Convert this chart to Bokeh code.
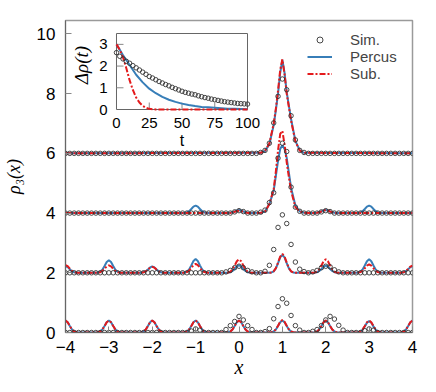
import numpy as np
from bokeh.plotting import figure
from bokeh.models import Range1d, Legend, LegendItem, FixedTicker
from bokeh.embed import file_html
from bokeh.resources import INLINE
from bokeh.core.properties import value

# ---------------- main panel data ----------------
x_ticks = [-4, -3, -2, -1, 0, 1, 2, 3, 4]
y_ticks = [0, 2, 4, 6, 8, 10]
offsets = [0, 2, 4, 6]

# relative profile of the small density peaks
peak_dx = [-0.3, -0.25, -0.2, -0.15, -0.1, -0.05, 0.0, 0.05, 0.1, 0.15, 0.2, 0.25, 0.3]
peak_shape = [0.0, 0.02, 0.08, 0.25, 0.54, 0.86, 1.0, 0.86, 0.54, 0.25, 0.08, 0.02, 0.0]

# (centre, height) of the small peaks
percus_peaks_0 = [(-4, 0.40), (-3, 0.40), (-2, 0.40), (-1, 0.40), (0, 0.40), (1, 0.40), (2, 0.40), (3, 0.38), (4, 0.40)]
sub_peaks_0 = [(-4, 0.40), (-3, 0.40), (-2, 0.40), (-1, 0.40), (0, 0.40), (1, 0.42), (2, 0.40), (3, 0.40), (4, 0.40)]
percus_peaks_2 = [(-4, 0.22), (-3, 0.42), (-2, 0.21), (-1, 0.46), (0, 0.25), (1, 0.60), (2, 0.24), (3, 0.45), (4, 0.22)]
sub_peaks_2 = [(-4, 0.26), (-3, 0.25), (-2, 0.20), (-1, 0.30), (0, 0.45), (1, 0.63), (2, 0.45), (3, 0.28), (4, 0.24)]
percus_peaks_4 = [(-1, 0.25), (0, 0.10), (2, 0.10), (3, 0.25)]
sub_peaks_4 = [(0, 0.08), (2, 0.10)]
percus_peaks_6 = []
sub_peaks_6 = []

# the large peak at x = 1 (height above the baseline)
big_dx = [-0.5, -0.4, -0.3, -0.2, -0.15, -0.1, -0.05, 0.0, 0.05, 0.1, 0.15, 0.2, 0.3, 0.4, 0.5]
percus_big_4 = [0.01, 0.05, 0.30, 0.75, 1.25, 1.75, 2.15, 2.27, 2.15, 1.85, 1.35, 0.85, 0.25, 0.06, 0.01]
sub_big_4 = [0.01, 0.05, 0.30, 0.80, 1.40, 2.10, 2.65, 2.75, 2.30, 1.70, 1.20, 0.75, 0.20, 0.05, 0.01]
percus_big_6 = [0.02, 0.08, 0.30, 0.95, 1.45, 2.00, 2.70, 3.13, 2.70, 2.05, 1.60, 1.15, 0.42, 0.10, 0.02]
sub_big_6 = [0.02, 0.09, 0.33, 1.00, 1.50, 2.10, 2.80, 3.15, 2.65, 2.00, 1.55, 1.10, 0.40, 0.09, 0.02]

# simulation: sample positions and deviations from each baseline
sim_x = np.round(np.linspace(-4, 4, 81), 1)
sim_dev_0 = {-1.1: 0.05, -1.0: 0.12, -0.9: 0.08, -0.3: 0.10, -0.2: 0.23, -0.1: 0.37, 0.0: 0.54,
             0.1: 0.42, 0.2: 0.23, 0.3: 0.10, 0.6: 0.03, 0.7: 0.13, 0.8: 0.46, 0.9: 0.87, 1.0: 1.13,
             1.1: 0.98, 1.2: 0.57, 1.3: 0.23, 1.4: 0.08, 1.7: 0.04, 1.8: 0.10, 1.9: 0.23, 2.0: 0.42,
             2.1: 0.54, 2.2: 0.45, 2.3: 0.24, 2.4: 0.08, 2.9: 0.06, 3.0: 0.12, 3.1: 0.08}
sim_dev_2 = {-0.3: 0.03, -0.2: 0.08, -0.1: 0.17, 0.0: 0.22, 0.1: 0.17, 0.2: 0.08, 0.3: 0.03,
             0.6: 0.05, 0.7: 0.25, 0.8: 0.78, 0.9: 1.52, 1.0: 1.94, 1.1: 1.65, 1.2: 0.95, 1.3: 0.36,
             1.4: 0.12, 1.5: 0.04, 1.7: 0.03, 1.8: 0.08, 1.9: 0.17, 2.0: 0.22, 2.1: 0.20, 2.2: 0.10, 2.3: 0.03}
sim_dev_4 = {-0.1: 0.04, 0.0: 0.08, 0.1: 0.05, 0.5: 0.03, 0.6: 0.10, 0.7: 0.35, 0.8: 0.68, 0.9: 1.84,
             1.0: 2.34, 1.1: 2.06, 1.2: 0.87, 1.3: 0.20, 1.4: 0.06, 1.9: 0.04, 2.0: 0.08, 2.1: 0.05}
sim_dev_6 = {0.5: 0.03, 0.6: 0.10, 0.7: 0.34, 0.8: 1.02, 0.9: 1.91, 1.0: 2.49, 1.1: 2.13, 1.2: 1.26,
             1.3: 0.45, 1.4: 0.10, 1.5: 0.03}

# ---------------- inset data ----------------
inset_x_ticks = [0, 25, 50, 75, 100]
inset_y_ticks = [0, 1, 2, 3]
inset_x_lim = (0, 100)
inset_y_lim = (0, 3.5)
sim_t = np.linspace(0, 100, 41)
sim_drho = [2.62, 2.45, 2.33, 2.22, 2.13, 2.02, 1.92, 1.82, 1.72, 1.62, 1.52, 1.45, 1.37, 1.29,
            1.22, 1.15, 1.09, 1.02, 0.96, 0.90, 0.84, 0.79, 0.75, 0.71, 0.68, 0.63, 0.59, 0.55,
            0.52, 0.48, 0.45, 0.42, 0.39, 0.36, 0.34, 0.32, 0.30, 0.28, 0.27, 0.26, 0.25]
percus_t = [0, 5, 10, 15, 20, 25, 30, 35, 40, 45, 50, 55, 60, 65, 70, 75, 80, 85, 90, 95, 100]
percus_drho = [3.0, 2.5, 2.05, 1.6, 1.25, 0.96, 0.75, 0.58, 0.45, 0.35, 0.27, 0.21, 0.16, 0.12,
               0.10, 0.08, 0.06, 0.04, 0.03, 0.02, 0.01]
sub_t = [0, 2.5, 5, 7.5, 10, 12.5, 15, 17.5, 20, 22.5, 25, 30, 100]
sub_drho = [3.0, 2.75, 2.4, 1.9, 1.35, 0.9, 0.55, 0.32, 0.17, 0.08, 0.03, 0.0, 0.0]

BLUE = "#377eb8"
RED = "#e41a1c"
SANS = "Liberation Sans"
SERIF = "Liberation Serif"


def curve(offset, peaks, big=None):
    pts = {-4.0: offset, 4.0: offset}
    for c, h in peaks:
        for dx, s in zip(peak_dx, peak_shape):
            xx = round(c + dx, 3)
            if -4 <= xx <= 4:
                pts[xx] = offset + h * s
    if big is not None:
        for dx, h in zip(big_dx, big):
            pts[round(1 + dx, 3)] = offset + h
    xs = sorted(pts)
    return xs, [pts[k] for k in xs]


p = figure(frame_width=347, frame_height=312,
           x_range=Range1d(-4, 4), y_range=Range1d(0, 10.45),
           output_backend="svg", toolbar_location=None,
           min_border_left=58, min_border_top=20, min_border_right=13, min_border_bottom=52)
p.background_fill_color = "white"
p.border_fill_color = "white"
p.outline_line_color = "#9a9a9a"
p.outline_line_width = 1.5
p.xgrid.visible = False
p.ygrid.visible = False

for ax in (p.xaxis[0], p.yaxis[0]):
    ax.major_tick_in = 6
    ax.major_tick_out = 0
    ax.minor_tick_line_color = None
    ax.axis_line_color = "#666666"
    ax.major_tick_line_color = "#888888"
    ax.major_label_text_font = SANS
    ax.major_label_text_font_size = "17px"
    ax.major_label_text_color = "black"
    ax.axis_label_text_font = SERIF
    ax.axis_label_text_font_style = "italic"
    ax.axis_label_text_color = "black"
p.xaxis.axis_label_text_font_size = "20px"
p.yaxis.axis_label_text_font_size = "18px"
p.xaxis.ticker = FixedTicker(ticks=x_ticks)
p.yaxis.ticker = FixedTicker(ticks=y_ticks)
p.xaxis.major_label_standoff = 8
p.yaxis.major_label_standoff = 10
p.xaxis.axis_label = "x"
p.yaxis.axis_label = "ρ₃(x)"
p.xaxis.axis_label_standoff = 0
p.yaxis.axis_label_standoff = 10

percus_sets = [(percus_peaks_0, None), (percus_peaks_2, None), (percus_peaks_4, percus_big_4), (percus_peaks_6, percus_big_6)]
sub_sets = [(sub_peaks_0, None), (sub_peaks_2, None), (sub_peaks_4, sub_big_4), (sub_peaks_6, sub_big_6)]
sim_sets = [sim_dev_0, sim_dev_2, sim_dev_4, sim_dev_6]

r_blue = r_red = r_sim = None
for off, (pk, bg), (spk, sbg), dev in zip(offsets, percus_sets, sub_sets, sim_sets):
    bx, by = curve(off, pk, bg)
    rb = p.line(bx, by, line_color=BLUE, line_width=2)
    rx, ry = curve(off, spk, sbg)
    rr = p.line(rx, ry, line_color=RED, line_width=2, line_dash="6 2 2 2")
    sy = [off + dev.get(float(v), 0.0) for v in sim_x]
    rs = p.scatter(sim_x, sy, marker="circle", size=4.5, line_color="#333333",
                   line_width=0.9, fill_alpha=0)
    if r_blue is None:
        r_blue, r_red, r_sim = rb, rr, rs

legend = Legend(items=[LegendItem(label="Sim.", renderers=[r_sim]),
                       LegendItem(label="Percus", renderers=[r_blue]),
                       LegendItem(label="Sub.", renderers=[r_red])],
                location=(237, 245), border_line_alpha=0, background_fill_alpha=0,
                label_text_font=SANS, label_text_font_size="15px",
                glyph_width=25, glyph_height=15, label_height=15, spacing=-2,
                label_standoff=18, padding=5, margin=0)
p.add_layout(legend)

# ---------------- inset, drawn on extra ranges ----------------
p.extra_x_ranges = {"ix": Range1d(-38.93, 225.95)}
p.extra_y_ranges = {"iy": Range1d(-10.27, 4.099)}
kw = dict(x_range_name="ix", y_range_name="iy")
p.quad(left=[inset_x_lim[0]], right=[inset_x_lim[1]], bottom=[inset_y_lim[0]], top=[inset_y_lim[1]],
       fill_color="white", line_color="#666666", line_width=1, **kw)
p.ray(x=inset_x_ticks[1:-1], y=[inset_y_lim[0]] * 3, length=7, length_units="screen",
      angle=np.pi / 2, line_color="#888888", line_width=1, **kw)
p.ray(x=[inset_x_lim[0]] * 3, y=inset_y_ticks[1:], length=7, length_units="screen",
      angle=0, line_color="#888888", line_width=1, **kw)
p.line(percus_t, percus_drho, line_color=BLUE, line_width=2, **kw)
p.line(sub_t, sub_drho, line_color=RED, line_width=2, line_dash="6 2 2 2", **kw)
p.scatter(sim_t, sim_drho, marker="circle", size=4.5, line_color="#333333", line_width=0.9,
          fill_alpha=0, **kw)
p.text(x=inset_x_ticks, y=[inset_y_lim[0]] * 5, text=[str(v) for v in inset_x_ticks],
       y_offset=8, text_align="center", text_baseline="top", text_font=value(SANS),
       text_font_size="15px", text_color="black", **kw)
p.text(x=[inset_x_lim[0]] * 4, y=inset_y_ticks, text=[str(v) for v in inset_y_ticks],
       x_offset=-9, text_align="right", text_baseline="middle", text_font=value(SANS),
       text_font_size="15px", text_color="black", **kw)
p.text(x=[sum(inset_x_lim) / 2], y=[inset_y_lim[0]], text=["t"], y_offset=31,
       text_align="center", text_baseline="middle", text_font=value(SANS),
       text_font_size="16px", text_color="black", **kw)
p.text(x=[inset_x_lim[0] - 27], y=[2.05], text=["Δρ(t)"],
       angle=np.pi / 2, text_align="center", text_baseline="middle", text_font=value(SERIF),
       text_font_style="italic", text_font_size="19px", text_color="black", **kw)

open("out.html", "w").write(file_html(p, INLINE))
